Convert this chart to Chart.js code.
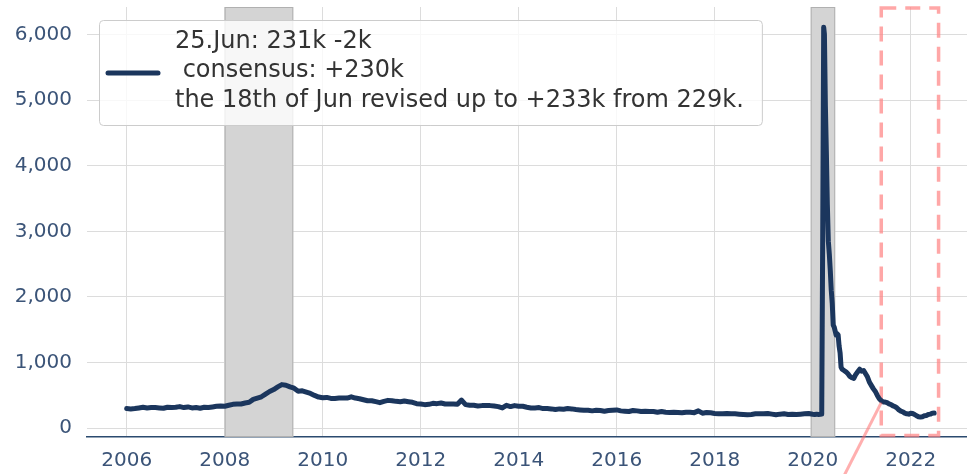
<!DOCTYPE html>
<html>
<head>
<meta charset="utf-8">
<script src="https://cdn.jsdelivr.net/npm/chart.js@4.4.0/dist/chart.umd.min.js"></script>
<style>
    html, body { margin: 0; padding: 0; background: #fff; }
</style>
</head>
<body>
<canvas id="claims-chart" width="967" height="474"></canvas>
<script>
// Initial jobless claims (thousands)
const startYear = 2006;
// one value per month, Jan 2006 .. Dec 2019
const monthlyClaims = [
    300, 295, 300, 310, 320, 310, 315, 315, 310, 305, 320, 315,
    320, 330, 315, 325, 310, 315, 305, 320, 315, 325, 335, 340,
    335, 350, 365, 370, 370, 385, 395, 440, 460, 480, 520, 560,
    590, 630, 665, 655, 630, 610, 565, 570, 550, 530, 500, 475,
    465, 470, 455, 455, 460, 460, 460, 480, 460, 450, 435, 420,
    420, 405, 390, 410, 425, 420, 410, 405, 415, 405, 395, 375,
    370, 360, 365, 380, 375, 385, 370, 370, 370, 365, 430, 360,
    350, 350, 340, 345, 345, 345, 340, 330, 310, 350, 330, 345,
    335, 335, 320, 310, 310, 315, 300, 300, 295, 285, 295, 290,
    300, 295, 285, 280, 275, 275, 265, 275, 270, 260, 270, 275,
    280, 265, 260, 255, 270, 265, 255, 260, 255, 255, 245, 255,
    245, 240, 245, 240, 235, 243, 243, 238, 265, 230, 240, 235,
    225, 220, 220, 225, 220, 220, 215, 210, 205, 210, 220, 220,
    220, 225, 215, 205, 215, 220, 210, 215, 210, 215, 220, 225
];
// pandemic period, closer to weekly
const recentDates = [
    2020.00, 2020.04, 2020.08, 2020.12, 2020.16, 2020.185, 2020.205, 2020.225, 2020.24,
    2020.26, 2020.28, 2020.30, 2020.32, 2020.34, 2020.36, 2020.38, 2020.40, 2020.42,
    2020.44, 2020.46, 2020.48, 2020.50, 2020.52, 2020.54, 2020.56, 2020.58, 2020.60,
    2020.64, 2020.68, 2020.72, 2020.76, 2020.80, 2020.84, 2020.88, 2020.92, 2020.96,
    2021.00, 2021.04, 2021.08, 2021.12, 2021.16, 2021.20, 2021.24, 2021.28, 2021.32,
    2021.36, 2021.40, 2021.44, 2021.48, 2021.52, 2021.56, 2021.60, 2021.64, 2021.68,
    2021.72, 2021.76, 2021.80, 2021.84, 2021.88, 2021.92, 2021.96, 2022.00, 2022.04,
    2022.08, 2022.12, 2022.16, 2022.20, 2022.24, 2022.28, 2022.32, 2022.36, 2022.40,
    2022.44, 2022.48
];
const recentClaims = [
    214, 211, 215, 210, 212, 215, 2914, 6110, 6000,
    4900, 4200, 3400, 2850, 2650, 2400, 2100, 1900, 1570,
    1540, 1480, 1420, 1440, 1420, 1250, 1150, 930, 900,
    880, 860, 830, 790, 770, 760, 820, 860, 900,
    870, 880, 830, 780, 700, 650, 600, 560, 500,
    450, 420, 400, 400, 390, 370, 360, 340, 330,
    310, 280, 260, 250, 230, 220, 215, 230, 225,
    210, 190, 175, 170, 175, 190, 195, 210, 215,
    230, 231
];

const xTicks = [2006, 2008, 2010, 2012, 2014, 2016, 2018, 2020, 2022];
const yTicks = [0, 1000, 2000, 3000, 4000, 5000, 6000];
const recessions = [[2008.0, 2009.4], [2019.96, 2020.46]];
const zoomBox = [2021.4, 2022.57];
const legendLines = [
    '25.Jun: 231k -2k',
    ' consensus: +230k',
    'the 18th of Jun revised up to +233k from 229k.'
];

const navy = '#1b365d';
const tickColor = '#3b5478';
const fontFamily = "'DejaVu Sans', sans-serif";

// Build the point list for the line
function buildPoints() {
    const pts = monthlyClaims.map((v, i) => ({ x: startYear + i / 12, y: v }));
    recentDates.forEach((d, i) => pts.push({ x: d, y: recentClaims[i] }));
    return pts;
}

// Recession bands, zoom box, connector and the legend
const decorPlugin = {
    id: 'decor',
    beforeDatasetsDraw(chart) {
        const { ctx, chartArea, scales } = chart;
        const x = scales.x, y = scales.y;
        ctx.save();
        recessions.forEach(([a, b]) => {
            const x0 = x.getPixelForValue(a);
            const x1 = x.getPixelForValue(b);
            ctx.fillStyle = '#d4d4d4';
            ctx.fillRect(x0, chartArea.top, x1 - x0, chartArea.bottom - chartArea.top);
            ctx.strokeStyle = '#b0b0b0';
            ctx.lineWidth = 1;
            ctx.strokeRect(x0 + 0.5, chartArea.top + 0.5, x1 - x0 - 1, chartArea.bottom - chartArea.top - 1);
        });

        // dashed zoom rectangle
        const bx0 = x.getPixelForValue(zoomBox[0]);
        const bx1 = x.getPixelForValue(zoomBox[1]);
        const by0 = y.getPixelForValue(6400);
        const by1 = y.getPixelForValue(-110);
        ctx.strokeStyle = 'rgba(255, 130, 130, 0.7)';
        ctx.lineWidth = 3.5;
        ctx.setLineDash([15, 9]);
        ctx.strokeRect(bx0, by0, bx1 - bx0, by1 - by0);
        ctx.restore();
    },
    afterDraw(chart) {
        const { ctx, chartArea, scales } = chart;
        const x = scales.x, y = scales.y;
        ctx.save();

        // connector line running out of the chart
        ctx.strokeStyle = 'rgba(255, 110, 110, 0.55)';
        ctx.lineWidth = 3;
        ctx.beginPath();
        ctx.moveTo(x.getPixelForValue(zoomBox[0]), y.getPixelForValue(390));
        ctx.lineTo(x.getPixelForValue(2020.52), y.getPixelForValue(-900));
        ctx.stroke();

        // legend box
        ctx.font = '24px ' + fontFamily;
        const textW = Math.max(...legendLines.map(t => ctx.measureText(t).width));
        const left = chartArea.left + 12;
        const top = 20;
        const textX = left + 76;
        const w = textX + textW + 18 - left;
        const h = 105;
        ctx.fillStyle = 'rgba(255, 255, 255, 0.8)';
        ctx.strokeStyle = '#cccccc';
        ctx.lineWidth = 1;
        ctx.beginPath();
        ctx.roundRect(left + 0.5, top + 0.5, w, h, 4);
        ctx.fill();
        ctx.stroke();

        ctx.strokeStyle = navy;
        ctx.lineWidth = 5;
        ctx.lineCap = 'round';
        ctx.beginPath();
        ctx.moveTo(left + 9, top + 53);
        ctx.lineTo(left + 59, top + 53);
        ctx.stroke();

        ctx.fillStyle = '#333333';
        ctx.textBaseline = 'middle';
        legendLines.forEach((t, i) => {
            ctx.fillText(t, textX, top + 22 + i * 29.2);
        });
        ctx.restore();
    }
};

const ctx = document.getElementById('claims-chart').getContext('2d');
const chart = new Chart(ctx, {
    type: 'line',
    data: {
        datasets: [{
            data: buildPoints(),
            borderColor: navy,
            borderWidth: 5,
            pointRadius: 0,
            tension: 0,
            borderJoinStyle: 'round',
            borderCapStyle: 'round'
        }]
    },
    options: {
        responsive: false,
        animation: false,
        devicePixelRatio: 1,
        layout: { padding: { top: 7, right: 0, left: 0, bottom: 0 } },
        plugins: {
            legend: { display: false },
            tooltip: { enabled: false }
        },
        scales: {
            x: {
                type: 'linear',
                min: 2005.19,
                max: 2023.15,
                afterBuildTicks: s => { s.ticks = xTicks.map(v => ({ value: v })); },
                afterFit: s => {
                    s.height = 37;
                    s.paddingLeft = 0;
                    s.paddingRight = 0;
                },
                ticks: {
                    callback: v => String(v),
                    color: tickColor,
                    font: { family: fontFamily, size: 20 },
                    padding: 12,
                    maxRotation: 0,
                    autoSkip: false
                },
                grid: { color: '#dcdcdc', lineWidth: 1, drawTicks: false },
                border: { display: true, color: '#2b4a6f', width: 1.5 }
            },
            y: {
                min: -133,
                max: 6417,
                afterBuildTicks: s => { s.ticks = yTicks.map(v => ({ value: v })); },
                afterFit: s => {
                    s.width = 87;
                    s.paddingTop = 0;
                    s.paddingBottom = 0;
                },
                ticks: {
                    callback: v => v.toLocaleString('en-US'),
                    color: tickColor,
                    font: { family: fontFamily, size: 20 },
                    padding: 15
                },
                grid: { color: '#dcdcdc', lineWidth: 1, drawTicks: false },
                border: { display: false }
            }
        }
    },
    plugins: [decorPlugin]
});
</script>
</body>
</html>
